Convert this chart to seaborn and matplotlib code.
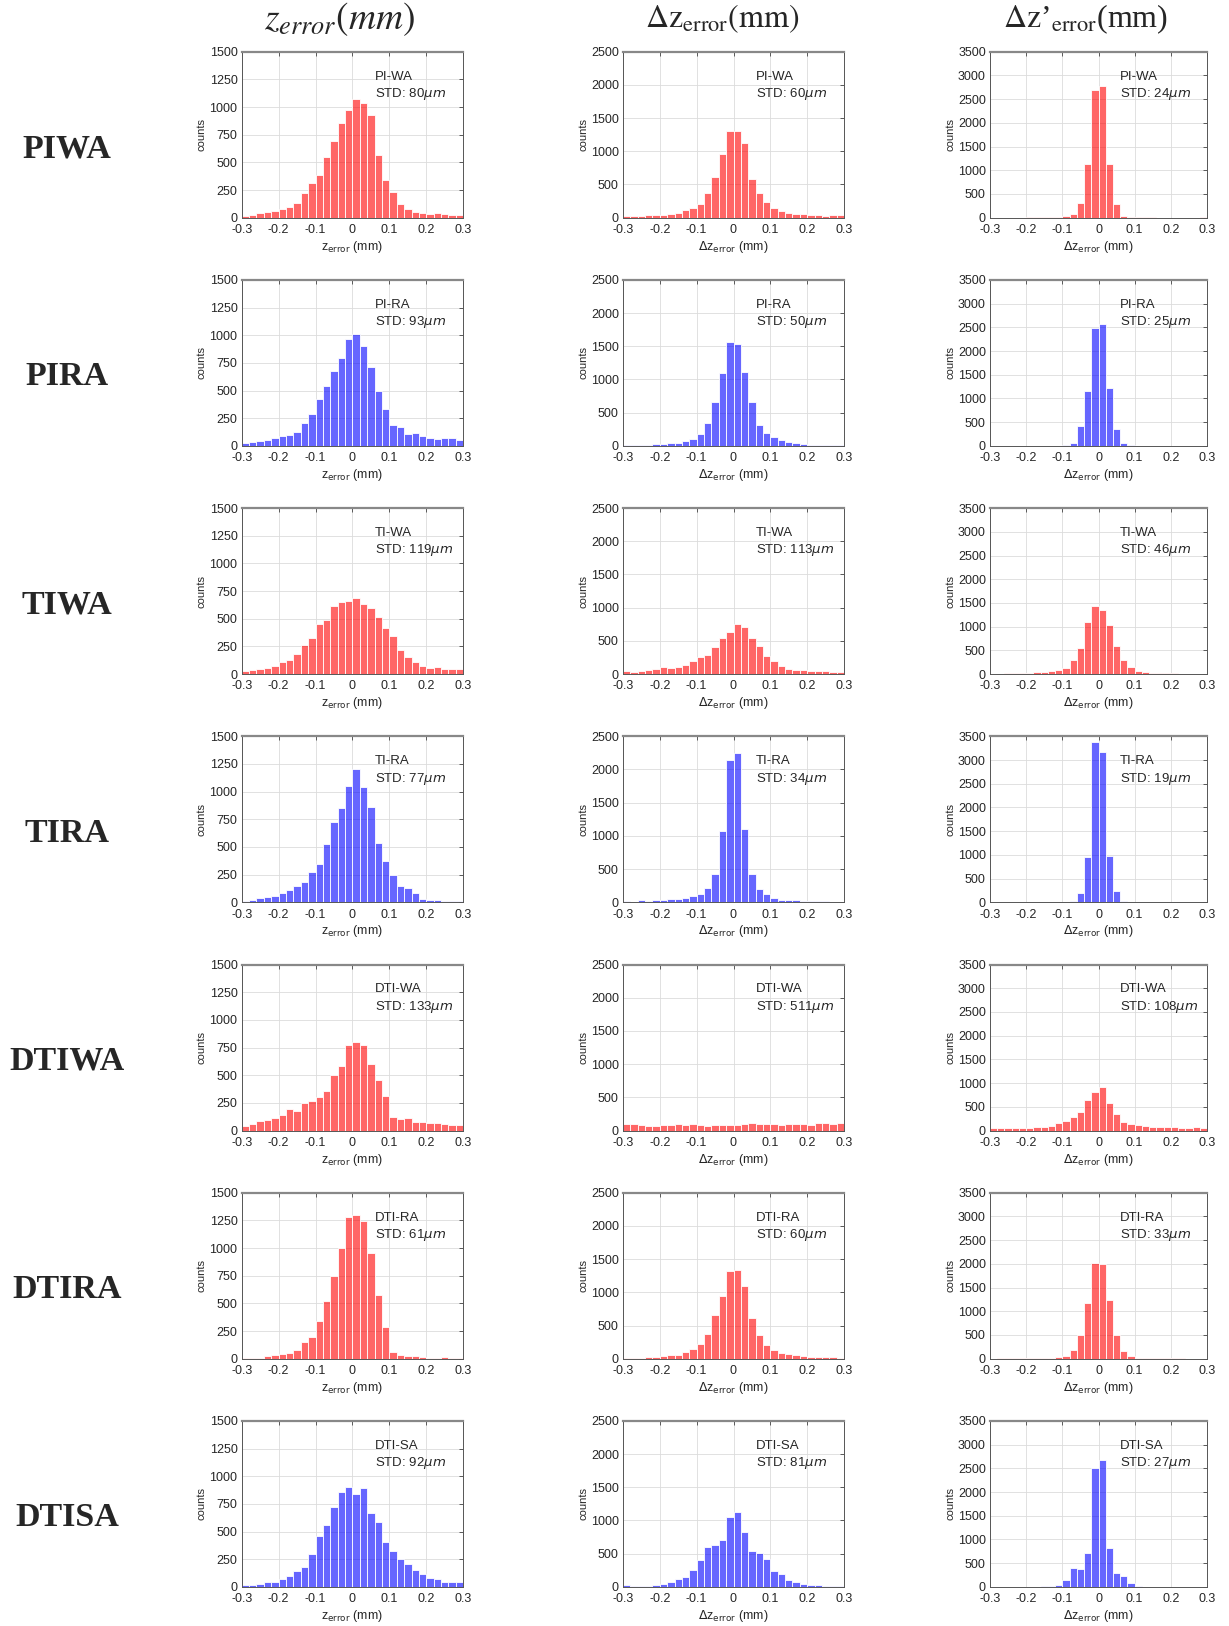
import numpy as np
import pandas as pd
import matplotlib
matplotlib.use("Agg")
import matplotlib.pyplot as plt
import seaborn as sns

# 30 bins of 0.02 mm between -0.3 and 0.3
n_bins = 30
x_range = (-0.3, 0.3)
edges = np.linspace(x_range[0], x_range[1], n_bins + 1)
centers = (edges[:-1] + edges[1:]) / 2

row_names = ["PIWA", "PIRA", "TIWA", "TIRA", "DTIWA", "DTIRA", "DTISA"]
tags = ["PI-WA", "PI-RA", "TI-WA", "TI-RA", "DTI-WA", "DTI-RA", "DTI-SA"]
row_colors = ["red", "blue", "red", "blue", "red", "red", "blue"]

std_z = [80, 93, 119, 77, 133, 61, 92]
std_dz = [60, 50, 113, 34, 511, 60, 81]
std_dzp = [24, 25, 46, 19, 108, 33, 27]

# counts per bin
PIWA_z = [15, 25, 40, 50, 65, 75, 100, 130, 220, 310, 390, 550, 690, 860, 970,
          1075, 1035, 930, 565, 345, 230, 125, 75, 55, 45, 35, 40, 30, 25, 25]
PIWA_dz = [20, 30, 30, 40, 40, 35, 55, 70, 110, 140, 210, 370, 620, 960, 1300,
           1300, 1130, 580, 370, 230, 140, 100, 70, 60, 60, 45, 40, 30, 40, 40]
PIWA_dzp = [0, 0, 0, 0, 0, 5, 5, 5, 10, 15, 30, 80, 300, 1130, 2700,
            2770, 1130, 290, 40, 15, 10, 5, 5, 0, 0, 0, 0, 0, 0, 5]

PIRA_z = [30, 35, 40, 55, 70, 85, 95, 125, 205, 290, 420, 540, 680, 790, 970,
          1015, 900, 715, 500, 330, 185, 175, 105, 115, 85, 70, 65, 70, 70, 55]
PIRA_dz = [20, 15, 15, 15, 35, 25, 40, 45, 70, 110, 180, 340, 660, 1100, 1565,
           1540, 1110, 660, 320, 200, 130, 90, 60, 40, 25, 20, 20, 20, 20, 15]
PIRA_dzp = [0, 0, 0, 0, 0, 0, 0, 0, 0, 5, 15, 70, 430, 1150, 2480,
            2580, 1230, 350, 70, 10, 5, 0, 0, 0, 0, 0, 0, 0, 0, 0]

TIWA_z = [30, 40, 45, 55, 70, 110, 130, 185, 260, 330, 450, 490, 615, 650, 665,
          690, 635, 600, 520, 420, 340, 220, 150, 110, 75, 55, 60, 45, 45, 45]
TIWA_dz = [40, 30, 40, 60, 70, 100, 95, 110, 140, 200, 250, 290, 410, 550, 640,
           750, 710, 550, 430, 270, 200, 120, 80, 60, 60, 50, 50, 40, 30, 30]
TIWA_dzp = [5, 10, 15, 20, 25, 25, 35, 40, 60, 80, 130, 290, 560, 1090, 1430,
            1360, 1040, 600, 290, 140, 60, 40, 30, 20, 15, 15, 10, 10, 10, 10]

TIRA_z = [15, 25, 35, 45, 60, 80, 110, 150, 180, 270, 350, 530, 730, 850, 1055,
          1205, 1040, 865, 540, 375, 245, 150, 130, 80, 30, 25, 20, 15, 15, 10]
TIRA_dz = [15, 10, 30, 25, 40, 30, 50, 55, 70, 90, 120, 220, 420, 1080, 2150,
           2250, 1100, 430, 200, 120, 70, 40, 40, 30, 25, 20, 15, 15, 10, 10]
TIRA_dzp = [0, 0, 0, 0, 0, 0, 0, 0, 0, 0, 5, 20, 190, 960, 3380,
            3160, 980, 240, 20, 5, 0, 0, 0, 0, 0, 0, 0, 0, 0, 0]

DTIWA_z = [45, 55, 85, 95, 110, 140, 190, 180, 245, 270, 300, 355, 500, 580, 770,
           800, 770, 600, 460, 310, 125, 105, 110, 75, 80, 70, 70, 60, 50, 50]
DTIWA_dz = [100, 105, 80, 70, 65, 90, 80, 95, 80, 95, 90, 70, 80, 85, 80,
            90, 100, 110, 100, 100, 100, 90, 100, 105, 100, 85, 120, 115, 105, 110]
DTIWA_dzp = [50, 50, 50, 55, 60, 60, 70, 75, 90, 150, 200, 280, 390, 650, 810,
             920, 580, 340, 180, 140, 110, 100, 80, 80, 70, 80, 50, 60, 75, 60]

DTIRA_z = [10, 10, 10, 20, 35, 45, 55, 75, 150, 200, 340, 525, 745, 1000, 1280,
           1300, 1245, 955, 580, 285, 60, 35, 25, 20, 15, 10, 10, 15, 5, 10]
DTIRA_dz = [5, 10, 15, 25, 30, 40, 55, 60, 100, 150, 220, 370, 660, 950, 1320,
            1335, 1100, 610, 350, 210, 130, 90, 70, 50, 40, 30, 25, 20, 20, 15]
DTIRA_dzp = [0, 5, 15, 15, 20, 20, 15, 10, 15, 30, 60, 190, 500, 1180, 2010,
             1990, 1230, 500, 170, 60, 10, 10, 5, 5, 15, 5, 5, 0, 0, 0]

DTISA_z = [20, 20, 30, 40, 40, 70, 95, 140, 180, 300, 460, 560, 720, 860, 900,
           840, 890, 670, 590, 410, 320, 250, 210, 150, 115, 80, 70, 40, 40, 40]
DTISA_dz = [25, 10, 15, 20, 30, 45, 80, 120, 150, 260, 410, 600, 630, 700, 1060,
            1130, 830, 540, 510, 420, 240, 190, 110, 70, 40, 30, 30, 10, 20, 20]
DTISA_dzp = [0, 0, 0, 0, 0, 0, 5, 10, 15, 40, 140, 390, 380, 720, 2510,
             2680, 820, 300, 240, 80, 20, 5, 0, 0, 0, 0, 0, 0, 0, 0]

z_counts = [PIWA_z, PIRA_z, TIWA_z, TIRA_z, DTIWA_z, DTIRA_z, DTISA_z]
dz_counts = [PIWA_dz, PIRA_dz, TIWA_dz, TIRA_dz, DTIWA_dz, DTIRA_dz, DTISA_dz]
dzp_counts = [PIWA_dzp, PIRA_dzp, TIWA_dzp, TIRA_dzp, DTIWA_dzp, DTIRA_dzp, DTISA_dzp]

col_ymax = [1500, 2500, 3500]
col_ystep = [250, 500, 500]
col_titles = [r"$z_{error}(mm)$",
              r"$\Delta\mathrm{z}_{\mathrm{error}}(\mathrm{mm})$",
              r"$\Delta\mathrm{z}$’$_{\mathrm{error}}$(mm)"]
col_title_size = [27, 23, 23]
col_xlabels = [r"z$_{\rm error}$ (mm)", r"$\Delta$z$_{\rm error}$ (mm)",
               r"$\Delta$z$_{\rm error}$ (mm)"]

sns.set_style("white")
plt.rcParams["font.family"] = ["Liberation Sans", "DejaVu Sans"]

W, H = 1229, 1626
fig = plt.figure(figsize=(W / 100, H / 100), dpi=100)

col_left = [241.7, 623.0, 990.0]
col_width = [221.5, 221.0, 217.0]
ax_h = 166.0
col_center = [340, 722, 1086]

for j, t in enumerate(col_titles):
    fig.text(col_center[j] / W, 1 - 19 / H, t, ha="center", va="center",
             fontsize=col_title_size[j], math_fontfamily="stix",
             family="Liberation Serif")

for i in range(7):
    top = 51.7 + 228.2 * i
    fig.text(67 / W, 1 - (top + ax_h / 2 + 14) / H, row_names[i],
             ha="center", va="center", fontsize=24.5, fontweight="bold",
             family="Liberation Serif")
    data = [z_counts[i], dz_counts[i], dzp_counts[i]]
    stds = [std_z[i], std_dz[i], std_dzp[i]]
    for j in range(3):
        ax = fig.add_axes([col_left[j] / W, 1 - (top + ax_h) / H,
                           col_width[j] / W, ax_h / H])
        df = pd.DataFrame({"err": centers, "counts": data[j]})
        sns.histplot(data=df, x="err", weights="counts", bins=n_bins,
                     binrange=x_range, ax=ax, color=row_colors[i], alpha=0.6,
                     edgecolor="white", linewidth=0.6)
        ax.set_xlim(-0.3, 0.3)
        ax.set_ylim(0, col_ymax[j])
        ax.set_xticks(np.round(np.arange(-0.3, 0.31, 0.1), 1))
        ax.set_xticklabels(["-0.3", "-0.2", "-0.1", "0", "0.1", "0.2", "0.3"])
        ax.set_yticks(np.arange(0, col_ymax[j] + 1, col_ystep[j]))
        ax.tick_params(direction="in", top=True, right=True, labelsize=9,
                       length=3, width=0.6, color="#444444")
        ax.tick_params(axis="x", pad=4.5)
        ax.tick_params(axis="y", pad=3)
        ax.grid(True, color="#dcdcdc", lw=0.6)
        ax.set_axisbelow(True)
        for s in ["left", "bottom", "right"]:
            ax.spines[s].set_color("#555555")
            ax.spines[s].set_linewidth(0.7)
        ax.spines["top"].set_color("#888888")
        ax.spines["top"].set_linewidth(1.6)
        ax.set_ylabel("counts", fontsize=8, labelpad=2)
        ax.set_xlabel(col_xlabels[j], fontsize=9, labelpad=2)
        ax.text(0.6, 0.85, tags[i], transform=ax.transAxes, fontsize=9.5,
                va="center")
        ax.text(0.6, 0.745, "STD: %d$\\mu m$" % stds[j], transform=ax.transAxes,
                fontsize=9.5, va="center")

fig.savefig("out.png", dpi=100)
